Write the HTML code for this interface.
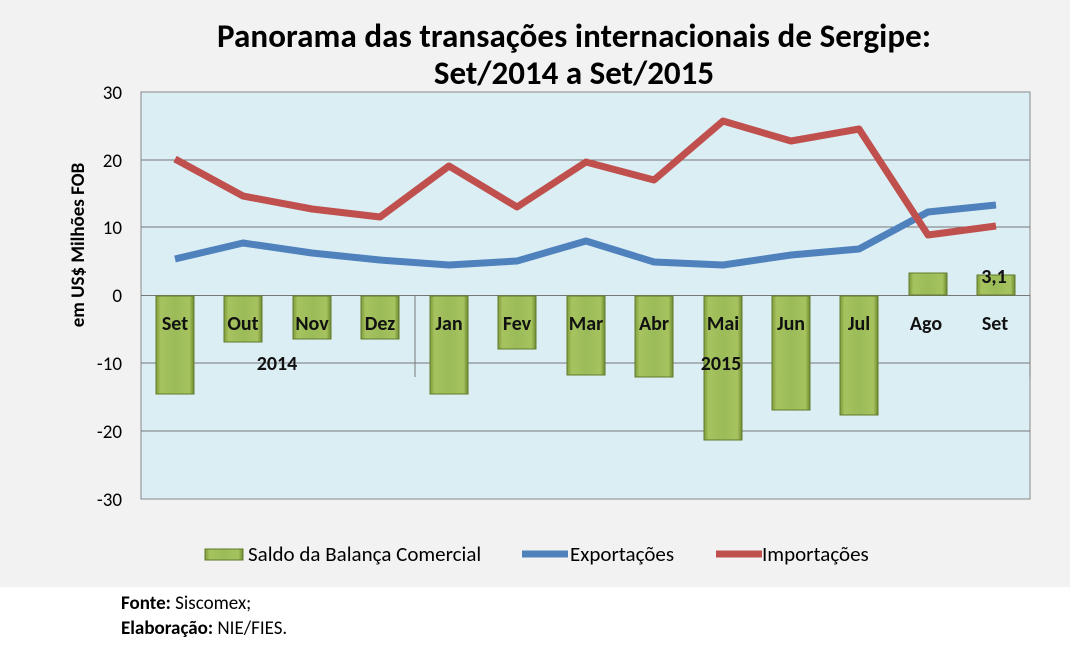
<!DOCTYPE html>
<html><head><meta charset="utf-8"><style>body{margin:0;background:#fff}svg{display:block}</style></head><body>
<svg width="1070" height="650" xmlns="http://www.w3.org/2000/svg" font-family="Calibri, Carlito, 'Liberation Sans', sans-serif">
<defs>
<linearGradient id="g" x1="0" y1="0" x2="1" y2="0">
<stop offset="0" stop-color="#7f9a3c"/><stop offset="0.12" stop-color="#a6c35e"/><stop offset="0.5" stop-color="#9bbb59"/><stop offset="0.88" stop-color="#a6c35e"/><stop offset="1" stop-color="#6f8a32"/>
</linearGradient>
</defs>
<rect x="0" y="0" width="1070" height="587" fill="#f2f2f2"/>
<text x="574" y="47" font-size="33" font-weight="bold" text-anchor="middle" textLength="714">Panorama das transações internacionais de Sergipe:</text>
<text x="574" y="84" font-size="33" font-weight="bold" text-anchor="middle">Set/2014 a Set/2015</text>
<rect x="141" y="92" width="889" height="407" fill="#dbeef4" stroke="#888" stroke-width="1"/>
<g stroke="#777" stroke-width="1">
<line x1="141" y1="160" x2="1030" y2="160"/><line x1="141" y1="227" x2="1030" y2="227"/>
<line x1="141" y1="295.5" x2="1030" y2="295.5"/><line x1="141" y1="363" x2="1030" y2="363"/>
<line x1="141" y1="431" x2="1030" y2="431"/>
<line x1="415" y1="295" x2="415" y2="377"/><line x1="1030" y1="295" x2="1030" y2="377"/>
</g>
<g font-size="19" text-anchor="end">
<text x="122" y="99">30</text><text x="122" y="167">20</text><text x="122" y="234">10</text><text x="122" y="302">0</text><text x="122" y="370">-10</text><text x="122" y="438">-20</text><text x="122" y="506">-30</text>
</g>
<text transform="translate(84,245) rotate(-90)" font-size="19" font-weight="bold" text-anchor="middle">em US$ Milhões FOB</text>
<g fill="url(#g)" stroke="#5f7a2a" stroke-width="1">
<rect x="156" y="296" width="38" height="98"/>
<rect x="224" y="296" width="38" height="46"/>
<rect x="293" y="296" width="38" height="43"/>
<rect x="361" y="296" width="38" height="43"/>
<rect x="430" y="296" width="38" height="98"/>
<rect x="498" y="296" width="38" height="53"/>
<rect x="567" y="296" width="38" height="79"/>
<rect x="635" y="296" width="38" height="81"/>
<rect x="704" y="296" width="38" height="144"/>
<rect x="772" y="296" width="38" height="114"/>
<rect x="840" y="296" width="38" height="119"/>
<rect x="909" y="273" width="38" height="22"/>
<rect x="977" y="275" width="38" height="20"/>
</g>
<g font-size="20" font-weight="bold" text-anchor="middle" fill="#111">
<text x="175" y="330">Set</text><text x="243" y="330">Out</text><text x="312" y="330">Nov</text><text x="380" y="330">Dez</text>
<text x="449" y="330">Jan</text><text x="517" y="330">Fev</text><text x="586" y="330">Mar</text><text x="654" y="330">Abr</text>
<text x="723" y="330">Mai</text><text x="791" y="330">Jun</text><text x="859" y="330">Jul</text><text x="926" y="330">Ago</text><text x="995" y="330">Set</text>
<text x="277" y="370">2014</text><text x="721" y="370">2015</text>
<text x="994" y="283">3,1</text>
</g>
<polyline fill="none" stroke="#4f81bd" stroke-width="7" stroke-linejoin="round" points="175,259 243,243 312,253 380,260 449,265 517,261 586,241 654,262 723,265 791,255 859,249 928,212 996,205"/>
<polyline fill="none" stroke="#c0504d" stroke-width="7" stroke-linejoin="round" points="175,159 243,196 312,209 380,217 449,166 517,207 586,162 654,180 723,121 791,141 859,129 928,235 996,226"/>
<rect x="205" y="549" width="38" height="11" fill="url(#g)" stroke="#5f7a2a"/>
<text x="248" y="561" font-size="21">Saldo da Balança Comercial</text>
<line x1="522" y1="554" x2="568" y2="554" stroke="#4f81bd" stroke-width="7"/>
<text x="570" y="561" font-size="21">Exportações</text>
<line x1="716" y1="554" x2="762" y2="554" stroke="#c0504d" stroke-width="7"/>
<text x="762" y="561" font-size="21">Importações</text>
<text x="121" y="609" font-size="19"><tspan font-weight="bold">Fonte:</tspan> Siscomex;</text>
<text x="121" y="634" font-size="19"><tspan font-weight="bold">Elaboração:</tspan> NIE/FIES.</text>
</svg>
</body></html>
